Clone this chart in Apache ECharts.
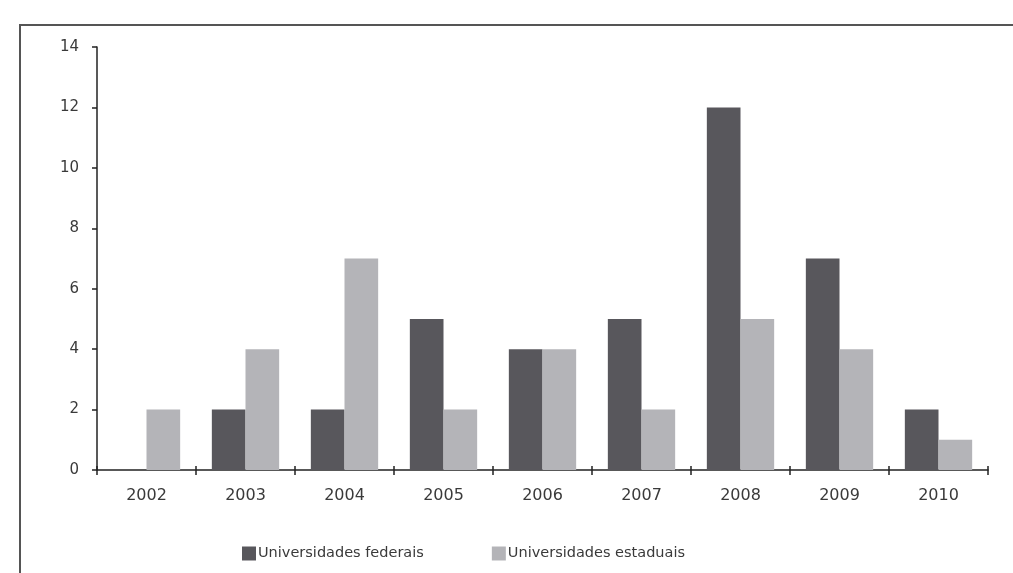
<!DOCTYPE html>
<html><head><meta charset="utf-8">
<script src="https://cdn.jsdelivr.net/npm/echarts@6/dist/echarts.min.js"></script>
<style>html,body{margin:0;padding:0;background:#fff}#c{width:1013px;height:573px}</style>
</head><body><div id="c"></div>
<script>
const years = ['2002','2003','2004','2005','2006','2007','2008','2009','2010'];
const federais = [null, 2, 2, 5, 4, 5, 12, 7, 2];
const estaduais = [2, 4, 7, 2, 4, 2, 5, 4, 1];
const yTicks = {min: 0, max: 14, interval: 2};
const seriesNames = ['Universidades federais', 'Universidades estaduais'];

const chart = echarts.init(document.getElementById('c'), null, {renderer: 'canvas'});
const font = '"DejaVu Sans", sans-serif';
chart.setOption({
  animation: false,
  backgroundColor: '#fff',
  grid: {left: 97, right: 25, top: 47, bottom: 103, containLabel: false},
  legend: {
    data: seriesNames, bottom: 7, left: 237, itemWidth: 14, itemHeight: 14, itemGap: 68,
    icon: 'rect',
    textStyle: {fontFamily: font, fontSize: 14.5, color: '#3a3a3a', padding: [0,0,0,-3]}
  },
  xAxis: [{
    type: 'category', data: years,
    axisLine: {lineStyle: {color: '#222', width: 1.5}},
    axisTick: {show: true, alignWithLabel: false, length: 5, lineStyle: {color: '#222', width: 1.5}},
    axisLabel: {fontFamily: font, fontSize: 16, color: '#3a3a3a', margin: 18}
  }, {
    type: 'category', data: years, position: 'bottom',
    axisLine: {show: false},
    axisTick: {show: true, inside: true, length: 4, lineStyle: {color: '#222', width: 1.5}},
    axisLabel: {show: false}
  }],
  yAxis: {
    type: 'value', min: yTicks.min, max: yTicks.max, interval: yTicks.interval,
    splitLine: {show: false},
    axisLine: {show: true, lineStyle: {color: '#222', width: 1.5}},
    axisTick: {show: true, length: 5, lineStyle: {color: '#222', width: 1.5}},
    axisLabel: {fontFamily: font, fontSize: 15, color: '#3a3a3a', margin: 18}
  },
  series: [
    {name: seriesNames[0], type: 'bar', data: federais, barGap: '0%', barCategoryGap: '32%',
     itemStyle: {color: '#58575c'}},
    {name: seriesNames[1], type: 'bar', data: estaduais, barGap: '0%', barCategoryGap: '32%',
     itemStyle: {color: '#b4b4b8'}}
  ],
  graphic: [
    {type: 'line', shape: {x1: 19, y1: 25, x2: 1013, y2: 25}, style: {stroke: '#555', lineWidth: 2}},
    {type: 'line', shape: {x1: 20, y1: 24, x2: 20, y2: 573}, style: {stroke: '#555', lineWidth: 2}}
  ]
});
</script></body></html>
